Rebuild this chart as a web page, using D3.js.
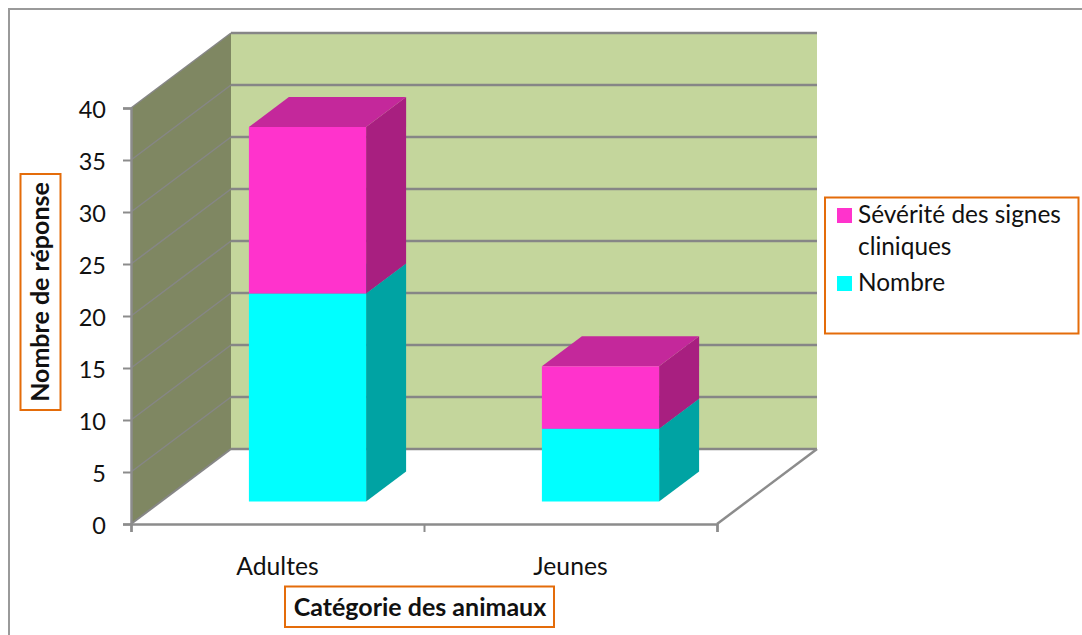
<!DOCTYPE html>
<html lang="fr">
<head>
<meta charset="utf-8">
<title>Nombre de réponse par catégorie des animaux</title>
<script src="https://cdnjs.cloudflare.com/ajax/libs/d3/7.9.0/d3.min.js"></script>
<style>
  html, body { margin: 0; padding: 0; background: #fff; }
  svg { display: block; }
  text { font-family: Lato, "Open Sans", sans-serif; fill: #111; }
</style>
</head>
<body>
<svg id="chart" width="1082" height="635"></svg>
<script>
// Chart data
const categories = ["Adultes", "Jeunes"];
const nombre = [20, 7];
const severite = [16, 6];
const yTicks = [0, 5, 10, 15, 20, 25, 30, 35, 40];
const legendLines = [["Sévérité des signes", "cliniques"], ["Nombre"]];

const WIDTH = 1082, HEIGHT = 635;
const svg = d3.select("#chart");

// Scales for the front plane of the 3D box
const y = d3.scaleLinear().domain([0, 40]).range([524, 108]);
const x = d3.scaleBand().domain(categories).range([131, 717]).paddingInner(0.6).paddingOuter(0.3);
const xEdges = d3.scaleLinear().domain([0, categories.length]).range([131, 717]);

// Depth runs from the front plane (0) to the back wall (1)
const depthX = d3.scaleLinear().domain([0, 1]).range([0, 100]);
const depthY = d3.scaleLinear().domain([0, 1]).range([0, -75]);
const BAR_FRONT = 0.3, BAR_BACK = 0.7;

const project = (px, value, depth) => [px + depthX(depth), y(value) + depthY(depth)];
const polygon = (pts, fill) => svg.append("polygon")
  .attr("points", pts.map(p => p.join(",")).join(" "))
  .attr("fill", fill);
const segment = (a, b, stroke, width) => svg.append("line")
  .attr("x1", a[0]).attr("y1", a[1]).attr("x2", b[0]).attr("y2", b[1])
  .attr("stroke", stroke).attr("stroke-width", width);

// Outer chart frame: top and left edges
svg.append("path")
  .attr("d", `M9,${HEIGHT}V9H${WIDTH}`)
  .attr("fill", "none").attr("stroke", "#9a9a9a").attr("stroke-width", 2);

const [x0, x1] = x.range();

// Back wall and side wall
polygon([project(x0, 0, 1), project(x1, 0, 1), project(x1, 40, 1), project(x0, 40, 1)], "#c4d69c");
polygon([project(x0, 0, 0), project(x0, 0, 1), project(x0, 40, 1), project(x0, 40, 0)], "#7f8762");

// Gridlines across both walls
yTicks.forEach(t => {
  segment(project(x0, t, 0), project(x0, t, 1), "#868686", t === 0 ? 2 : 1.5);
  segment(project(x0, t, 1), project(x1, t, 1), "#868686", 2.5);
});

// Floor edges
segment(project(x1, 0, 0), project(x1, 0, 1), "#8c8c8c", 2.5);

// Stacked 3D bars
const stacks = [
  { values: nombre, base: nombre.map(() => 0), front: "#00ffff", top: "#00b5b5", side: "#00a3a3" },
  { values: severite, base: nombre, front: "#ff33cc", top: "#c4289b", side: "#a81f80" }
];
stacks.forEach(s => {
  categories.forEach((c, i) => {
    const left = x(c), right = left + x.bandwidth();
    const v0 = s.base[i], v1 = v0 + s.values[i];
    polygon([project(right, v0, BAR_FRONT), project(right, v0, BAR_BACK), project(right, v1, BAR_BACK), project(right, v1, BAR_FRONT)], s.side);
    polygon([project(left, v1, BAR_FRONT), project(left, v1, BAR_BACK), project(right, v1, BAR_BACK), project(right, v1, BAR_FRONT)], s.top);
    polygon([project(left, v0, BAR_FRONT), project(right, v0, BAR_FRONT), project(right, v1, BAR_FRONT), project(left, v1, BAR_FRONT)], s.front);
  });
});

// Value axis
const yAxis = svg.append("g").attr("transform", "translate(131,0)")
  .call(d3.axisLeft(y).tickValues(yTicks).tickSize(8).tickPadding(17));
yAxis.selectAll("text").style("font-size", "23.5px").attr("dy", "0.42em").attr("fill", "#111");

// Category axis: ticks sit on the band edges, labels between them
const xAxis = svg.append("g").attr("transform", "translate(0,524)")
  .call(d3.axisBottom(xEdges).tickValues(d3.range(categories.length + 1)).tickSize(8).tickFormat(""));
[xAxis, yAxis].forEach(a => {
  a.select(".domain").attr("stroke", "#8c8c8c").attr("stroke-width", 2.5);
  a.selectAll(".tick line").attr("stroke", "#8c8c8c").attr("stroke-width", 2);
});
svg.selectAll("text.category").data(categories).join("text")
  .attr("class", "category")
  .attr("x", c => x(c) + x.bandwidth() / 2)
  .attr("y", 575)
  .attr("text-anchor", "middle")
  .style("font-size", "24.7px")
  .text(c => c);

// Boxed axis titles
const ORANGE = "#e46c0a";
const box = (bx, by, bw, bh) => svg.append("rect")
  .attr("x", bx).attr("y", by).attr("width", bw).attr("height", bh)
  .attr("fill", "#fff").attr("stroke", ORANGE).attr("stroke-width", 2);

box(20.5, 174, 40, 236);
svg.append("text")
  .attr("transform", "translate(49,292) rotate(-90)")
  .attr("text-anchor", "middle")
  .style("font-size", "25px").style("font-weight", 700)
  .text("Nombre de réponse");

box(285, 586.5, 269, 40.5);
svg.append("text")
  .attr("x", 420).attr("y", 616)
  .attr("text-anchor", "middle")
  .style("font-size", "25px").style("font-weight", 700)
  .text("Catégorie des animaux");

// Legend
box(825, 197.5, 253.5, 136);
const legendColors = ["#ff33cc", "#00ffff"];
const swatchY = [208, 276];
legendLines.forEach((lines, i) => {
  svg.append("rect")
    .attr("x", 837).attr("y", swatchY[i]).attr("width", 15).attr("height", 15)
    .attr("fill", legendColors[i]);
  lines.forEach((line, j) => {
    svg.append("text")
      .attr("x", 858).attr("y", swatchY[i] + 15 + j * 32)
      .style("font-size", "24.4px")
      .text(line);
  });
});
</script>
</body>
</html>
